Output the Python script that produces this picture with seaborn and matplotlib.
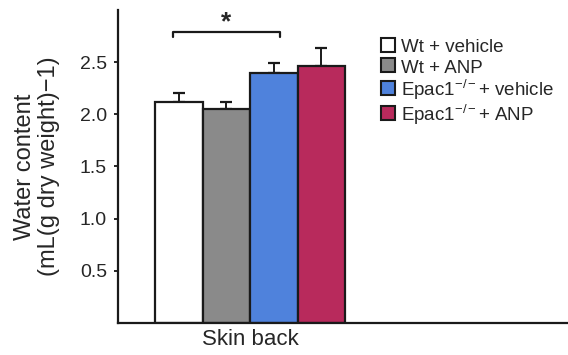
import matplotlib

matplotlib.use("Agg")

import matplotlib.pyplot as plt
from matplotlib.lines import Line2D
import pandas as pd
import seaborn as sns

sns.set_theme(style="ticks")
plt.rcParams.update({
	"font.family": ["Liberation Sans", "DejaVu Sans"],
	"mathtext.fontset": "custom",
	"mathtext.rm": "Liberation Sans",
	"mathtext.it": "Liberation Sans:italic",
	"mathtext.bf": "Liberation Sans:bold",
	"axes.edgecolor": "#1a1a1a",
	"axes.linewidth": 1.6,
	"xtick.major.size": 0,
	"ytick.major.size": 3,
	"ytick.major.width": 1.4,
	"ytick.major.pad": 5,
})

# Values.
tissue = ["Skin back"]
groups = ["Wt + vehicle", "Wt + ANP", "Epac1$^{-/-}$+ vehicle", "Epac1$^{-/-}$+ ANP"]
means = [2.12, 2.05, 2.40, 2.46]
errors = [0.08, 0.07, 0.09, 0.18]
colors = ["#ffffff", "#8a8a8a", "#4f82dc", "#b82a5c"]
y_ticks = [0.5, 1.0, 1.5, 2.0, 2.5]

df = pd.DataFrame({
	"tissue": tissue * len(groups),
	"group": groups,
	"water": means,
})

fig = plt.figure(figsize=(5.68, 3.55), dpi=100)
ax = fig.add_axes([0.208, 0.09, 0.792, 0.882])

sns.barplot(
	data=df,
	x="tissue",
	y="water",
	hue="group",
	hue_order=groups,
	palette=colors,
	saturation=1,
	edgecolor="#1a1a1a",
	linewidth=1.6,
	width=0.8,
	errorbar=None,
	legend=False,
	ax=ax,
)

# Upper-only error bars, placed from the drawn bar geometry.
bars = [p for p in ax.patches if p.get_height() > 0][:len(groups)]
bars.sort(key=lambda p: p.get_x())
for bar, err in zip(bars, errors):
	cx = bar.get_x() + bar.get_width() / 2
	top = bar.get_height()
	ax.errorbar(cx, top, yerr=[[0], [err]], fmt="none", ecolor="#1a1a1a",
		elinewidth=1.4, capsize=4, capthick=1.6, zorder=1)
	bar.set_zorder(2)

# Significance bracket between Wt + vehicle and Epac1-/- + vehicle.
x1 = bars[0].get_x() + bars[0].get_width() * 0.38
x2 = bars[2].get_x() + bars[2].get_width() * 0.62
y_br, h = 2.79, 0.05
ax.plot([x1, x1, x2, x2], [y_br - h, y_br, y_br, y_br - h], color="#1a1a1a", lw=1.6)
ax.text((x1 + x2) / 2, y_br - 0.02, "*", ha="center", va="bottom", fontsize=19, fontweight="bold")

ax.set_xlim(-0.556, 1.339)
ax.set_ylim(0, 3.0)
ax.set_yticks(y_ticks)
ax.set_yticklabels([f"{v:.1f}" for v in y_ticks], fontsize=14)
ax.tick_params(axis="x", labelsize=16, pad=4)
ax.set_xlabel("")
ax.set_ylabel("Water content\n(mL(g dry weight)\u22121)", fontsize=17, labelpad=14, linespacing=1.15)
sns.despine(ax=ax)

# Square markers keep the legend rows evenly spaced.
handles = [
	Line2D([], [], linestyle="none", marker="s", markersize=10,
		markerfacecolor=bar.get_facecolor(), markeredgecolor="#1a1a1a", markeredgewidth=1.5)
	for bar in bars
]
leg = ax.legend(
	handles,
	groups,
	loc="upper left",
	bbox_to_anchor=(0.584, 0.915),
	frameon=False,
	fontsize=13.5,
	handlelength=0.8,
	handleheight=1.2,
	handletextpad=0.3,
	labelspacing=0.05,
	borderpad=0,
	borderaxespad=0,
)

fig.savefig("out.png", dpi=100, facecolor="white")
plt.close(fig)
